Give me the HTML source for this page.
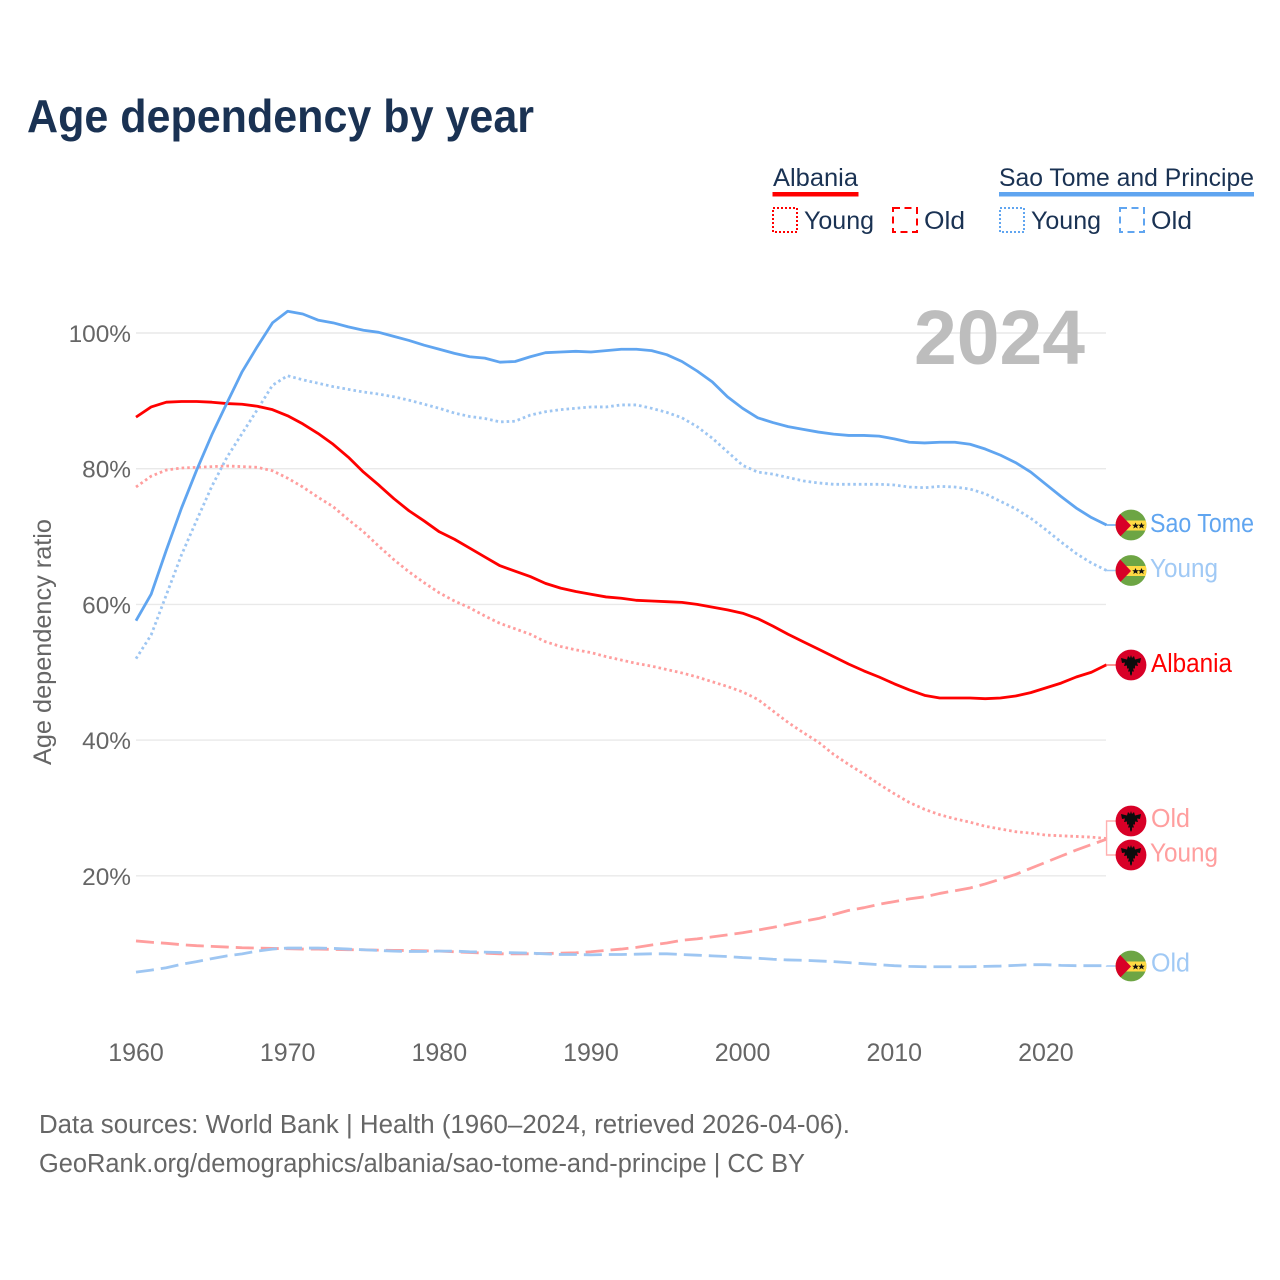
<!DOCTYPE html>
<html lang="en">
<head>
<meta charset="utf-8">
<title>Age dependency by year</title>
<style>
  html,body{margin:0;padding:0;background:#fff;}
  #chart{display:block;width:1280px;height:1280px;}
  text{font-family:"Liberation Sans",sans-serif;}
</style>
</head>
<body>
<svg id="chart" xmlns="http://www.w3.org/2000/svg" width="1280" height="1280" viewBox="0 0 1280 1280">
  <defs>
    <clipPath id="flag-clip"><circle cx="0" cy="0" r="15.4"/></clipPath>
    <g id="flag-st" clip-path="url(#flag-clip)">
      <rect x="-16" y="-16" width="32" height="32" fill="#6da544"/>
      <rect x="-16" y="-4.5" width="32" height="10" fill="#ffda44"/>
      <polygon points="-16,-16.5 0,0.5 -16,17" fill="#d80027"/>
      <polygon points="4.5,-2.5 5.5,-0.2 7.8,-0.2 6,1.2 6.7,3.5 4.5,2.1 2.3,3.5 3,1.2 1.2,-0.2 3.5,-0.2" fill="#111"/>
      <polygon points="10.5,-2.5 11.5,-0.2 13.8,-0.2 12,1.2 12.7,3.5 10.5,2.1 8.3,3.5 9,1.2 7.2,-0.2 9.5,-0.2" fill="#111"/>
    </g>
    <g id="flag-al" clip-path="url(#flag-clip)">
      <rect x="-16" y="-16" width="32" height="32" fill="#d80027"/>
      <path d="M-10,-7 L-4,-5.5 L-3,-9 L-1,-7 L0,-10 L1,-7 L3,-9 L4,-5.5 L10,-7 L9,-2 L6,-2.5 L7,1 L4,0.5 L4,3.5 L2,3.5 L3,6.5 L1,6.5 L1,9 L0,11 L-1,9 L-1,6.5 L-3,6.5 L-2,3.5 L-4,3.5 L-4,0.5 L-7,1 L-6,-2.5 L-9,-2 Z" fill="#0c0c0c"/>
    </g>
  </defs>

  <text x="27" y="132" font-size="46" font-weight="700" fill="#1a3253" textLength="507" lengthAdjust="spacingAndGlyphs">Age dependency by year</text>

  <g font-size="25" fill="#1a3253">
    <text x="773" y="186" textLength="85" lengthAdjust="spacingAndGlyphs">Albania</text>
    <rect x="772.5" y="192" width="86" height="4.5" fill="#ff0000"/>
    <rect x="773" y="208" width="24" height="24" fill="none" stroke="#ff0000" stroke-width="2" stroke-dasharray="2 2"/>
    <text x="804" y="229" textLength="70" lengthAdjust="spacingAndGlyphs">Young</text>
    <rect x="893" y="208" width="24" height="24" fill="none" stroke="#ff0000" stroke-width="2" stroke-dasharray="7 4.5"/>
    <text x="924" y="229" textLength="41" lengthAdjust="spacingAndGlyphs">Old</text>

    <text x="999" y="186" textLength="255" lengthAdjust="spacingAndGlyphs">Sao Tome and Principe</text>
    <rect x="999" y="192" width="255" height="4.5" fill="#60a5f0"/>
    <rect x="1000" y="208" width="24" height="24" fill="none" stroke="#60a5f0" stroke-width="2" stroke-dasharray="2 2"/>
    <text x="1031" y="229" textLength="70" lengthAdjust="spacingAndGlyphs">Young</text>
    <rect x="1120" y="208" width="24" height="24" fill="none" stroke="#60a5f0" stroke-width="2" stroke-dasharray="7 4.5"/>
    <text x="1151" y="229" textLength="41" lengthAdjust="spacingAndGlyphs">Old</text>
  </g>

  <g id="grid"></g>
  <g id="y-ticks"></g>
  <g id="x-ticks"></g>

  <text transform="translate(51,642) rotate(-90)" text-anchor="middle" font-size="25" fill="#666666" textLength="246" lengthAdjust="spacingAndGlyphs">Age dependency ratio</text>

  <text x="914" y="364" font-size="77" font-weight="700" fill="#bdbdbd" textLength="171" lengthAdjust="spacingAndGlyphs">2024</text>

  <g id="series"></g>
  <g id="connectors"></g>

  <g font-size="25.5">
    <use href="#flag-st" x="1131" y="525"/>
    <text x="1150" y="532" fill="#60a5f0" textLength="104" lengthAdjust="spacingAndGlyphs">Sao Tome</text>
    <use href="#flag-st" x="1131" y="570.5"/>
    <text x="1150" y="577" fill="#a0c9f5" textLength="68" lengthAdjust="spacingAndGlyphs">Young</text>
    <use href="#flag-al" x="1131" y="665"/>
    <text x="1151" y="672" fill="#ff0000" textLength="81" lengthAdjust="spacingAndGlyphs">Albania</text>
    <use href="#flag-al" x="1131" y="821"/>
    <text x="1151" y="827" fill="#ff9e9e" textLength="39" lengthAdjust="spacingAndGlyphs">Old</text>
    <use href="#flag-al" x="1131" y="855"/>
    <text x="1150" y="861.5" fill="#ff9e9e" textLength="68" lengthAdjust="spacingAndGlyphs">Young</text>
    <use href="#flag-st" x="1131" y="966"/>
    <text x="1151" y="971.5" fill="#a0c9f5" textLength="39" lengthAdjust="spacingAndGlyphs">Old</text>
  </g>

  <g font-size="25.5" fill="#666666">
    <text x="39" y="1133" textLength="811" lengthAdjust="spacingAndGlyphs">Data sources: World Bank | Health (1960–2024, retrieved 2026-04-06).</text>
    <text x="39" y="1172" textLength="766" lengthAdjust="spacingAndGlyphs">GeoRank.org/demographics/albania/sao-tome-and-principe | CC BY</text>
  </g>
</svg>

<script>
const years = [1960,1961,1962,1963,1964,1965,1966,1967,1968,1969,1970,1971,1972,1973,1974,1975,1976,1977,1978,1979,1980,1981,1982,1983,1984,1985,1986,1987,1988,1989,1990,1991,1992,1993,1994,1995,1996,1997,1998,1999,2000,2001,2002,2003,2004,2005,2006,2007,2008,2009,2010,2011,2012,2013,2014,2015,2016,2017,2018,2019,2020,2021,2022,2023,2024];

const albaniaTotal = [87.6,89.1,89.8,89.9,89.9,89.8,89.6,89.5,89.2,88.7,87.8,86.6,85.2,83.6,81.7,79.5,77.6,75.6,73.8,72.3,70.7,69.6,68.3,67.0,65.7,64.9,64.1,63.1,62.4,61.9,61.5,61.1,60.9,60.6,60.5,60.4,60.3,60.0,59.6,59.2,58.7,57.9,56.8,55.6,54.5,53.4,52.3,51.2,50.2,49.3,48.3,47.4,46.6,46.2,46.2,46.2,46.1,46.2,46.5,47.0,47.7,48.4,49.3,50.0,51.1];
const albaniaYoung = [77.3,78.9,79.8,80.1,80.2,80.3,80.4,80.3,80.2,79.7,78.6,77.3,75.8,74.4,72.5,70.7,68.6,66.6,64.8,63.2,61.7,60.5,59.5,58.3,57.2,56.4,55.6,54.5,53.8,53.3,52.9,52.3,51.8,51.3,50.9,50.4,49.9,49.3,48.6,47.9,47.1,46.0,44.3,42.6,41.1,39.7,37.9,36.4,35.0,33.5,32.1,30.8,29.8,29.0,28.4,27.9,27.3,26.9,26.5,26.3,26.0,25.9,25.8,25.7,25.5];
const albaniaOld = [10.4,10.2,10.05,9.85,9.7,9.6,9.5,9.4,9.35,9.3,9.25,9.2,9.2,9.15,9.1,9.1,9.05,9.0,9.0,8.95,8.9,8.8,8.7,8.6,8.5,8.5,8.5,8.55,8.6,8.65,8.8,9.0,9.2,9.45,9.8,10.1,10.5,10.7,11.0,11.3,11.6,12.0,12.4,12.85,13.3,13.7,14.3,14.9,15.3,15.8,16.2,16.6,16.9,17.4,17.8,18.2,18.8,19.5,20.2,21.1,22.0,22.9,23.8,24.6,25.4];

const saoTomeTotal = [57.6,61.5,68.0,74.2,79.8,85.0,89.7,94.3,98.0,101.5,103.2,102.8,101.9,101.5,100.9,100.4,100.1,99.5,98.9,98.2,97.6,97.0,96.5,96.3,95.7,95.8,96.5,97.1,97.2,97.3,97.2,97.4,97.6,97.6,97.4,96.8,95.8,94.4,92.8,90.6,88.9,87.5,86.8,86.2,85.8,85.4,85.1,84.9,84.9,84.8,84.4,83.9,83.8,83.9,83.9,83.6,82.9,82.0,80.9,79.5,77.7,75.9,74.2,72.8,71.7];
const saoTomeYoung = [52.0,55.5,61.4,67.3,72.4,77.4,81.7,85.2,88.7,92.3,93.7,93.1,92.6,92.1,91.7,91.3,91.0,90.6,90.1,89.5,88.9,88.2,87.7,87.4,86.9,87.0,87.9,88.4,88.7,88.9,89.1,89.1,89.4,89.4,88.9,88.3,87.5,86.2,84.5,82.5,80.5,79.5,79.2,78.7,78.2,77.9,77.7,77.7,77.7,77.7,77.6,77.3,77.2,77.4,77.3,77.0,76.3,75.2,74.1,72.7,71.0,69.2,67.5,66.1,65.0];
const saoTomeOld = [5.8,6.1,6.45,6.95,7.35,7.8,8.2,8.5,8.9,9.2,9.35,9.35,9.35,9.3,9.2,9.1,9.0,8.9,8.85,8.85,8.9,8.9,8.8,8.75,8.7,8.65,8.6,8.5,8.4,8.4,8.35,8.4,8.4,8.45,8.5,8.5,8.4,8.3,8.2,8.1,7.95,7.85,7.7,7.6,7.55,7.45,7.35,7.2,7.05,6.9,6.75,6.65,6.6,6.6,6.6,6.6,6.65,6.7,6.8,6.9,6.9,6.8,6.75,6.75,6.75];

const yTickValues = [100,80,60,40,20];
const yTickLabels = ["100%","80%","60%","40%","20%"];
const xTickValues = [1960,1970,1980,1990,2000,2010,2020];
const xTickLabels = ["1960","1970","1980","1990","2000","2010","2020"];

const NS = "http://www.w3.org/2000/svg";
const xScale = function (year) { return 136 + (year - 1960) * 15.165; };
const yScale = function (pct) { return 1011.5 - pct * 6.785; };

const gridLayer = document.getElementById("grid");
const yTickLayer = document.getElementById("y-ticks");
const xTickLayer = document.getElementById("x-ticks");
const seriesLayer = document.getElementById("series");
const connectorLayer = document.getElementById("connectors");

yTickValues.forEach(function (v, i) {
  const line = document.createElementNS(NS, "line");
  
  
  line.setAttribute("x1", 136);
  line.setAttribute("x2", 1106);
  line.setAttribute("y1", yScale(v));
  line.setAttribute("y2", yScale(v));
  line.setAttribute("stroke", "#e9e9e9");
  line.setAttribute("stroke-width", "1.4");
  gridLayer.appendChild(line);

  const label = document.createElementNS(NS, "text");
  
  
  label.setAttribute("x", 131);
  label.setAttribute("y", yScale(v) + 9);
  label.setAttribute("text-anchor", "end");
  label.setAttribute("font-size", "24.4");
  label.setAttribute("fill", "#666666");
  label.textContent = yTickLabels[i];
  yTickLayer.appendChild(label);
});

xTickValues.forEach(function (v, i) {
  const label = document.createElementNS(NS, "text");
  
  
  label.setAttribute("x", xScale(v));
  label.setAttribute("y", 1061);
  label.setAttribute("text-anchor", "middle");
  label.setAttribute("font-size", "25");
  label.setAttribute("fill", "#666666");
  label.textContent = xTickLabels[i];
  xTickLayer.appendChild(label);
});

function drawLine(values, color, dash, name) {
  const path = document.createElementNS(NS, "path");
  
  
  let d = "";
  values.forEach(function (v, i) {
    d += (i === 0 ? "M" : "L") + xScale(years[i]).toFixed(2) + "," + yScale(v).toFixed(2);
  });
  path.setAttribute("d", d);
  path.setAttribute("fill", "none");
  path.setAttribute("stroke", color);
  path.setAttribute("stroke-width", "2.8");
  path.setAttribute("stroke-linejoin", "round");
  if (dash) { path.setAttribute("stroke-dasharray", dash); }
  seriesLayer.appendChild(path);
}

function drawConnector(values, color, labelY, name) {
  const path = document.createElementNS(NS, "path");
  
  
  const endX = xScale(years[years.length - 1]);
  const endY = yScale(values[values.length - 1]);
  path.setAttribute("d", "M" + endX + "," + endY + " L" + endX + "," + labelY + " L1116," + labelY);
  path.setAttribute("fill", "none");
  path.setAttribute("stroke", color);
  path.setAttribute("stroke-width", "1.4");
  connectorLayer.appendChild(path);
}

const dotted = "2.6 3";
const dashed = "18 7";
drawLine(albaniaOld, "#ff9e9e", dashed, "line-albania-old");
drawLine(saoTomeOld, "#9ec6f2", dashed, "line-sao-tome-old");
drawLine(albaniaYoung, "#ff9e9e", dotted, "line-albania-young");
drawLine(saoTomeYoung, "#9ec6f2", dotted, "line-sao-tome-young");
drawLine(albaniaTotal, "#ff0000", null, "line-albania-total");
drawLine(saoTomeTotal, "#60a5f0", null, "line-sao-tome-total");

drawConnector(saoTomeTotal, "#60a5f0", 525, "connector-sao-tome");
drawConnector(saoTomeYoung, "#a0c9f5", 570.5, "connector-sao-tome-young");
drawConnector(albaniaTotal, "#ff7070", 665, "connector-albania");
drawConnector(albaniaOld, "#ffb0b0", 821, "connector-albania-old");
drawConnector(albaniaYoung, "#ffb0b0", 855, "connector-albania-young");
drawConnector(saoTomeOld, "#a0c9f5", 966, "connector-sao-tome-old");
</script>
</body>
</html>
